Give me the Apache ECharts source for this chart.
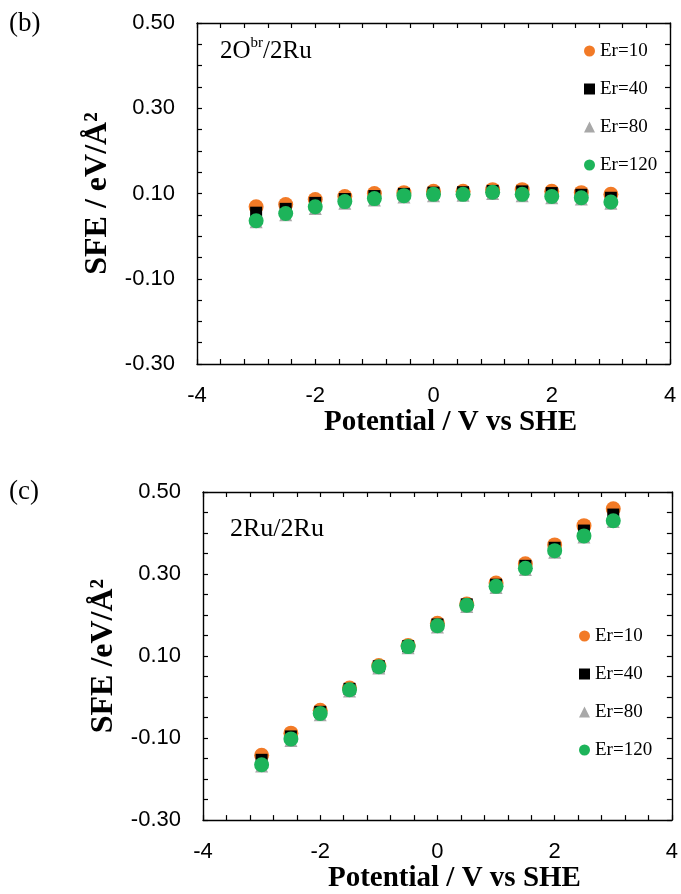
<!DOCTYPE html>
<html>
<head>
<meta charset="utf-8">
<script src="https://cdn.jsdelivr.net/npm/echarts@6/dist/echarts.min.js"></script>
<style>
  html, body { margin: 0; padding: 0; background: #fff; }
  #chart { width: 681px; height: 894px; }
</style>
</head>
<body>
<div id="chart"></div>
<script>
// Applied potential (V vs SHE)
const potential = [-3, -2.5, -2, -1.5, -1, -0.5, 0, 0.5, 1, 1.5, 2, 2.5, 3];

// Panel (b): 2O^br/2Ru stacking fault energy (eV/Å²)
const sfeB_Er10  = [0.069, 0.074, 0.086, 0.093, 0.100, 0.102, 0.105, 0.105, 0.109, 0.109, 0.105, 0.102, 0.098];
const sfeB_Er40  = [0.055, 0.064, 0.078, 0.087, 0.094, 0.099, 0.102, 0.103, 0.106, 0.105, 0.101, 0.097, 0.090];
const sfeB_Er80  = [0.034, 0.050, 0.065, 0.077, 0.085, 0.092, 0.095, 0.096, 0.100, 0.095, 0.090, 0.087, 0.077];
const sfeB_Er120 = [0.036, 0.053, 0.069, 0.081, 0.088, 0.095, 0.098, 0.098, 0.103, 0.098, 0.093, 0.090, 0.080];

// Panel (c): 2Ru/2Ru stacking fault energy (eV/Å²)
const sfeC_Er10  = [-0.142, -0.088, -0.032, 0.022, 0.077, 0.126, 0.180, 0.227, 0.278, 0.325, 0.371, 0.418, 0.459];
const sfeC_Er40  = [-0.153, -0.096, -0.036, 0.020, 0.075, 0.124, 0.177, 0.226, 0.274, 0.320, 0.364, 0.406, 0.445];
const sfeC_Er80  = [-0.168, -0.106, -0.043, 0.015, 0.071, 0.120, 0.171, 0.221, 0.267, 0.311, 0.353, 0.390, 0.428];
const sfeC_Er120 = [-0.165, -0.102, -0.040, 0.018, 0.074, 0.123, 0.174, 0.224, 0.270, 0.314, 0.357, 0.393, 0.430];

const seriesNames = ['Er=10', 'Er=40', 'Er=80', 'Er=120'];
const xTicks = { min: -4, max: 4, interval: 2 };
const yTicks = { min: -0.3, max: 0.5, interval: 0.2 };

const colors = { 'Er=10': '#F27A26', 'Er=40': '#000000', 'Er=80': '#A8A8A8', 'Er=120': '#1DB45A' };
const symbols = { 'Er=10': 'circle', 'Er=40': 'rect', 'Er=80': 'triangle', 'Er=120': 'circle' };
const sizes = { 'Er=10': 15, 'Er=40': 12, 'Er=80': 13, 'Er=120': 15 };

const serif = '"Liberation Serif", "Times New Roman", serif';
const sans = '"Liberation Sans", Arial, sans-serif';

const grids = [
  { left: 197, top: 23, width: 473, height: 341 },
  { left: 203, top: 492, width: 469, height: 337 }
];

function xAxes(gi, nameGap) {
  const common = {
    gridIndex: gi, type: 'value', min: xTicks.min, max: xTicks.max, interval: xTicks.interval,
    axisLine: { show: true, onZero: false, lineStyle: { color: '#000', width: 1.4 } },
    axisTick: { show: true, inside: true, length: 5, lineStyle: { color: '#000', width: 1.2 } },
    minorTick: { show: true, splitNumber: 5, length: 5, lineStyle: { color: '#000', width: 1.2 } },
    splitLine: { show: false }
  };
  return [
    Object.assign({}, common, {
      position: 'bottom',
      axisLabel: { show: true, margin: 21, fontFamily: sans, fontSize: 22, color: '#000' },
      name: 'Potential / V vs SHE', nameLocation: 'middle', nameGap: nameGap,
      nameTextStyle: { fontFamily: serif, fontWeight: 'bold', fontSize: 29, color: '#000', padding: [0, 0, 0, 34] }
    }),
    Object.assign({}, common, { position: 'top', axisLabel: { show: false } })
  ];
}

function yAxes(gi, name) {
  const common = {
    gridIndex: gi, type: 'value', min: yTicks.min, max: yTicks.max, interval: yTicks.interval,
    axisLine: { show: true, onZero: false, lineStyle: { color: '#000', width: 1.4 } },
    axisTick: { show: true, inside: true, length: 5, lineStyle: { color: '#000', width: 1.2 } },
    minorTick: { show: true, splitNumber: 4, length: 5, lineStyle: { color: '#000', width: 1.2 } },
    splitLine: { show: false }
  };
  return [
    Object.assign({}, common, {
      position: 'left',
      axisLabel: { show: true, margin: 22, fontFamily: sans, fontSize: 22, color: '#000',
                   formatter: v => v.toFixed(2) },
      name: name, nameLocation: 'middle', nameGap: 70, nameRotate: 90,
      nameTextStyle: { fontFamily: serif, fontWeight: 'bold', fontSize: 32, color: '#000' }
    }),
    Object.assign({}, common, { position: 'right', axisLabel: { show: false } })
  ];
}

function makeSeries(gi, arrays) {
  return seriesNames.map((n, i) => ({
    name: n, type: 'scatter', xAxisIndex: gi * 2, yAxisIndex: gi * 2,
    symbol: symbols[n], symbolSize: sizes[n],
    itemStyle: { color: colors[n], opacity: 1 },
    z: 2 + i,
    data: potential.map((x, k) => [x, arrays[i][k]])
  }));
}

function makeLegend(left, top) {
  return {
    orient: 'vertical', left: left, top: top, itemWidth: 11, itemHeight: 11, itemGap: 18,
    selectedMode: false,
    data: seriesNames.map(n => ({ name: n, icon: symbols[n] })),
    textStyle: { fontFamily: serif, fontSize: 19, color: '#000', lineHeight: 20, padding: [0, 0, 0, 0] }
  };
}

const chart = echarts.init(document.getElementById('chart'), null, { renderer: 'canvas' });
chart.setOption({
  backgroundColor: '#ffffff',
  animation: false,
  grid: grids.map(g => Object.assign({ containLabel: false }, g)),
  xAxis: [].concat(xAxes(0, 40), xAxes(1, 37)),
  yAxis: [].concat(yAxes(0, 'SFE / eV/Å²'), yAxes(1, 'SFE /eV/Å²')),
  legend: [makeLegend(579, 36), makeLegend(574, 621)],
  series: [].concat(
    makeSeries(0, [sfeB_Er10, sfeB_Er40, sfeB_Er80, sfeB_Er120]),
    makeSeries(1, [sfeC_Er10, sfeC_Er40, sfeC_Er80, sfeC_Er120])
  ),
  graphic: [
    { type: 'text', left: 9, top: 10, style: { text: '(b)', font: '27px ' + serif, fill: '#000' } },
    { type: 'text', left: 9, top: 478, style: { text: '(c)', font: '27px ' + serif, fill: '#000' } },
    { type: 'text', left: 220, top: 36, style: {
        text: '{a|2O}{s|br}{a|/2Ru}', fill: '#000',
        rich: {
          a: { fontFamily: serif, fontSize: 25, lineHeight: 28, verticalAlign: 'bottom' },
          s: { fontFamily: serif, fontSize: 15, lineHeight: 28, verticalAlign: 'top' }
        } } },
    { type: 'text', left: 230, top: 516, style: { text: '2Ru/2Ru', font: '26px ' + serif, fill: '#000' } }
  ]
});
</script>
</body>
</html>
